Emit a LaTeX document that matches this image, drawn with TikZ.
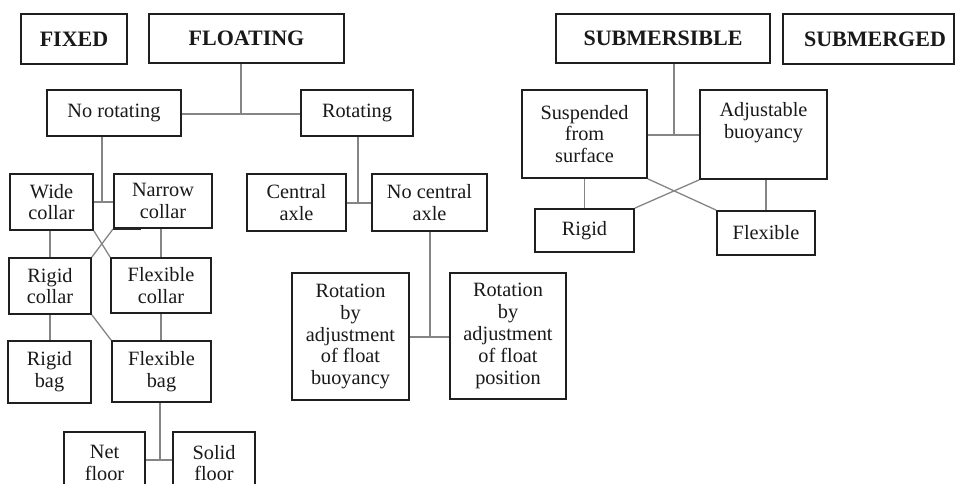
\documentclass[tikz,border=0pt]{standalone}
\usepackage{fontspec}
\setmainfont{Liberation Serif}
\begin{document}
\begin{tikzpicture}[x=1pt,y=1pt,
  box/.style={draw=black!88, line width=1.8pt, inner sep=0pt, align=center,
    font=\fontsize{20.3}{21.8}\selectfont, text=black!90},
  head/.style={box, font=\fontsize{22}{24}\bfseries\selectfont},
  lbl/.style={inner sep=0pt, align=center, font=\fontsize{22}{24}\bfseries\selectfont, text=black!90},
  conn/.style={draw=black!48, line width=1.3pt}]
\useasboundingbox (0,0) rectangle (956,-484);
\clip (0,0) rectangle (956,-484);
\fill[white] (0,0) rectangle (956,-484);
% top level
\node[head, minimum width=106pt, minimum height=50pt] (fixed) at (74,-39) {FIXED};
\node[head, minimum width=195pt, minimum height=49pt] (floating) at (246.5,-38.5) {FLOATING};
\node[head, minimum width=214pt, minimum height=49pt] (submersible) at (663,-38.5) {SUBMERSIBLE};
\node[box, minimum width=171pt, minimum height=50pt] (submerged) at (868.5,-39) {};
\node[lbl] (submergedt) at (875,-39) {SUBMERGED};
% floating branch
\node[box, minimum width=134pt, minimum height=46pt] (norot) at (114,-113) {No rotating};
\node[box, minimum width=112pt, minimum height=46pt] (rot) at (357,-113) {Rotating};
\node[box, minimum width=83pt, minimum height=56pt] (wide) at (51.5,-202) {Wide\\collar};
\node[box, minimum width=98pt, minimum height=54pt] (narrow) at (163,-201) {Narrow\\collar};
\node[box, minimum width=82pt, minimum height=56pt] (rcollar) at (50,-286) {Rigid\\collar};
\node[box, minimum width=100pt, minimum height=55pt] (fcollar) at (161,-285.5) {Flexible\\collar};
\node[box, minimum width=83pt, minimum height=62pt] (rbag) at (49.5,-372) {Rigid\\bag};
\node[box, minimum width=99pt, minimum height=61pt] (fbag) at (161.5,-371.5) {Flexible\\bag};
\node[box, minimum width=81pt, minimum height=62pt] (net) at (104.5,-463) {Net\\floor};
\node[box, minimum width=82pt, minimum height=62pt] (solid) at (214,-463) {Solid\\floor};
\node[box, minimum width=99pt, minimum height=57pt] (central) at (296.5,-202.5) {Central\\axle};
\node[box, minimum width=115pt, minimum height=57pt] (nocentral) at (429.5,-202.5) {No central\\axle};
\node[box, minimum width=117pt, minimum height=127pt] (rotbuoy) at (350.5,-336.5) {Rotation\\by\\adjustment\\of float\\buoyancy};
\node[box, minimum width=116pt, minimum height=126pt] (rotpos) at (508,-336) {Rotation\\by\\adjustment\\of float\\position};
% submersible branch
\node[box, minimum width=125pt, minimum height=88pt] (susp) at (584.5,-134) {Suspended\\from\\surface};
\node[box, minimum width=127pt, minimum height=89pt] (adj) at (763.5,-134.5) {Adjustable\\buoyancy\\\strut};
\node[box, minimum width=99pt, minimum height=43pt] (rigid) at (584.5,-230.5) {Rigid};
\node[box, minimum width=98pt, minimum height=44pt] (flex) at (766,-233) {Flexible};
% junctions
\coordinate (j1) at (241,-114);
\coordinate (j2) at (102,-202);
\coordinate (j3) at (358,-203);
\coordinate (j4) at (160,-460);
\coordinate (j5) at (430,-337);
\coordinate (j6) at (674,-135);
% connectors
\draw[conn] (floating.south -| j1) -- (j1);
\draw[conn] (norot.east |- j1) -- (rot.west |- j1);
\draw[conn] (norot.south -| j2) -- (j2);
\draw[conn] (wide.east |- j2) -- (narrow.west |- j2);
\draw[conn] (rot.south -| j3) -- (j3);
\draw[conn] (central.east |- j3) -- (nocentral.west |- j3);
\draw[conn] (rcollar.north |- wide.south) -- (rcollar.north);
\draw[conn] (fcollar.north |- narrow.south) -- (fcollar.north);
\draw[conn] (wide.south east) -- (fcollar.north west);
\draw[conn] (narrow.south west) -- (rcollar.north east);
\draw[conn] (rcollar.south) -- (rcollar.south |- rbag.north);
\draw[conn] (fcollar.south) -- (fcollar.south |- fbag.north);
\draw[conn] (rcollar.south east) -- (fbag.north west);
\draw[conn] (fbag.south -| j4) -- (j4);
\draw[conn] (net.east |- j4) -- (solid.west |- j4);
\draw[conn] (nocentral.south -| j5) -- (j5);
\draw[conn] (rotbuoy.east |- j5) -- (rotpos.west |- j5);
\draw[conn] (submersible.south -| j6) -- (j6);
\draw[conn] (susp.east |- j6) -- (adj.west |- j6);
\draw[conn] (susp.south) -- (rigid.north);
\draw[conn] (flex.north |- adj.south) -- (flex.north);
\draw[conn] (susp.south east) -- (flex.north west);
\draw[conn] (adj.south west) -- (rigid.north east);
\draw[line width=2.6pt, black!85] (narrow.south west) -- ++(28,0);
\end{tikzpicture}
\end{document}
